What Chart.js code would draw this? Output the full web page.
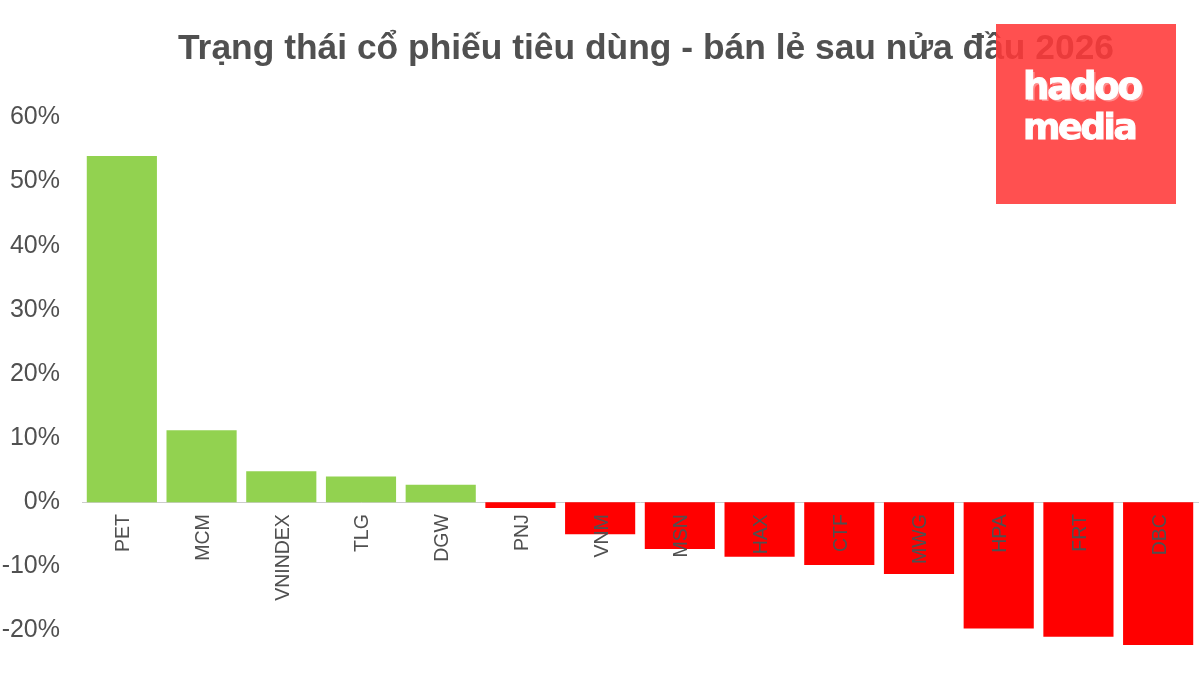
<!DOCTYPE html>
<html lang="vi">
<head>
<meta charset="utf-8">
<title>Trạng thái cổ phiếu tiêu dùng - bán lẻ</title>
<script src="https://cdn.jsdelivr.net/npm/chart.js@4"></script>
<style>
  html, body { margin: 0; padding: 0; background: #fff; overflow: hidden; }
  #wrap { position: relative; width: 1200px; height: 675px; overflow: hidden; }
  #logo {
    position: absolute; left: 996px; top: 24px; width: 180px; height: 180px;
    background: rgba(255, 56, 56, 0.88); color: #fff;
    font-family: "DejaVu Sans", sans-serif; font-weight: bold;
  }
  #logo div { position: absolute; left: 27px; line-height: 1; -webkit-text-stroke: 1px #fff; }
</style>
</head>
<body>
<div id="wrap">
  <!-- taller than the window: the zero-line axis keeps room under the plot -->
  <canvas id="chart" width="1200" height="693"></canvas>
  <div id="logo">
    <div style="top:44px;font-size:37px;letter-spacing:-2.2px;text-shadow:2px 2px 0 rgba(255,255,255,.35)">hadoo</div>
    <div style="top:85px;font-size:36px;letter-spacing:-2.4px">media</div>
  </div>
</div>
<script>
const titleText = 'Trạng thái cổ phiếu tiêu dùng - bán lẻ sau nửa đầu 2026';
const tickers = ['PET', 'MCM', 'VNINDEX', 'TLG', 'DGW', 'PNJ', 'VNM', 'MSN', 'HAX', 'CTF', 'MWG', 'HPA', 'FRT', 'DBC'];
const changes = [54.0, 11.2, 4.8, 4.0, 2.7, -0.9, -5.0, -7.3, -8.5, -9.8, -11.2, -19.7, -21.0, -22.3];
const yTicks = [-20, -10, 0, 10, 20, 30, 40, 50, 60];

const textColor = '#505050';

// title is centred a bit right of the canvas in the original
const shiftTitle = {
  id: 'shiftTitle',
  afterLayout(chart) {
    chart.titleBlock.left = 94;
  }
};

new Chart(document.getElementById('chart').getContext('2d'), {
  type: 'bar',
  data: {
    labels: tickers,
    datasets: [{
      label: 'Thay đổi',
      data: changes,
      backgroundColor: changes.map(v => v >= 0 ? '#92d250' : '#ff0000'),
      categoryPercentage: 1,
      barPercentage: 0.88
    }]
  },
  plugins: [shiftTitle],
  options: {
    responsive: false,
    animation: false,
    layout: { padding: { top: 0, right: 2, bottom: 0, left: 0 } },
    plugins: {
      legend: { display: false },
      tooltip: { enabled: false },
      title: {
        display: true,
        text: titleText,
        color: textColor,
        font: { family: '"Liberation Sans", sans-serif', size: 35.4, weight: 'bold' },
        padding: { top: 28, bottom: 47 }
      }
    },
    scales: {
      x: {
        position: { y: 0 },
        grid: { display: false, drawTicks: false },
        border: { color: '#cccccc', width: 1 },
        ticks: {
          z: 1,
          color: textColor,
          font: { family: '"Liberation Sans", sans-serif', size: 19.5 },
          minRotation: 90,
          maxRotation: 90,
          autoSkip: false,
          labelOffset: 2,
          padding: 12
        }
      },
      y: {
        min: -24,
        max: 60,
        grid: { display: false, drawTicks: false },
        border: { display: false },
        afterFit(scale) { scale.width = 82; },
        afterBuildTicks(scale) { scale.ticks = yTicks.map(value => ({ value })); },
        ticks: {
          color: textColor,
          font: { family: '"Liberation Sans", sans-serif', size: 25 },
          padding: 22,
          callback: value => value + '%'
        }
      }
    }
  }
});
</script>
</body>
</html>
